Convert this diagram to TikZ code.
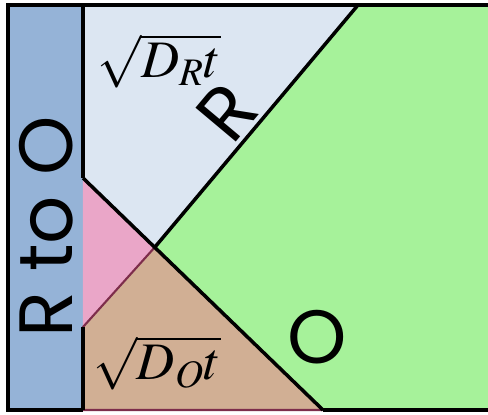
\documentclass[tikz,border=0pt]{standalone}
\usepackage{mathptmx}
\usepackage{fontspec}
\newfontfamily\zonefont{Poppins}
\definecolor{stripBlue}{RGB}{149,179,215}
\definecolor{paleBlue}{RGB}{220,230,242}
\definecolor{zoneGreen}{RGB}{166,242,154}
\definecolor{zonePink}{RGB}{234,166,200}
\definecolor{zoneTan}{RGB}{209,175,148}
\definecolor{edgeMaroon}{RGB}{125,45,75}

\begin{document}
\begin{tikzpicture}[x=0.02cm,y=-0.02cm,
    zone/.style={font=\zonefont\fontsize{43}{43}\selectfont, inner sep=0pt},
    lab/.style={font=\fontsize{30}{30}\selectfont, inner sep=0pt}]
  \useasboundingbox (0,0) rectangle (488,414);
  % corners and crossing points
  \coordinate (ol) at (8,5);
  \coordinate (tl) at (83,5);
  \coordinate (tr) at (492,5);
  \coordinate (br) at (492,410);
  \coordinate (bl) at (83,410);
  \coordinate (obl) at (8,410);
  \coordinate (rtop) at (358,5);
  \coordinate (lmid) at (83,178);
  \coordinate (llow) at (83,327);
  \coordinate (cross) at (155,247);
  \coordinate (rbot) at (323,410);

  \fill[stripBlue] (ol) rectangle (bl);
  \fill[paleBlue] (tl) -- (rtop) -- (cross) -- (lmid) -- cycle;
  \fill[zoneGreen] (rtop) -- (tr) -- (br) -- (rbot) -- (cross) -- cycle;
  \fill[zonePink] (lmid) -- (cross) -- (llow) -- cycle;
  \fill[zoneTan] (llow) -- (cross) -- (rbot) -- (bl) -- cycle;

  \draw[edgeMaroon, line width=1.2pt] (cross) -- (llow) -- (bl) -- (rbot);
  \draw[line width=2pt] (lmid) -- (rbot);
  \draw[line width=2pt] (cross) -- (rtop);
  \draw[line width=2pt] (tl) -- (lmid);
  \draw[line width=2pt] (llow) -- (bl);
  \draw[line width=2pt] (tr) -- (ol) -- (obl) -- (bl);
  \draw[line width=2pt] (rbot) -- (br);

  \node[zone, rotate=90] (rtoo) at (46,227) {R to O};
  \node[zone, rotate=50] (rlab) at (227,112) {R};
  \node[zone] (olab) at (317,337) {O};
  \node[lab] (dr) at (159,61) {$\sqrt{D_R t}$};
  \node[lab] (do) at (157,363) {$\sqrt{D_O t}$};
\end{tikzpicture}
\end{document}
